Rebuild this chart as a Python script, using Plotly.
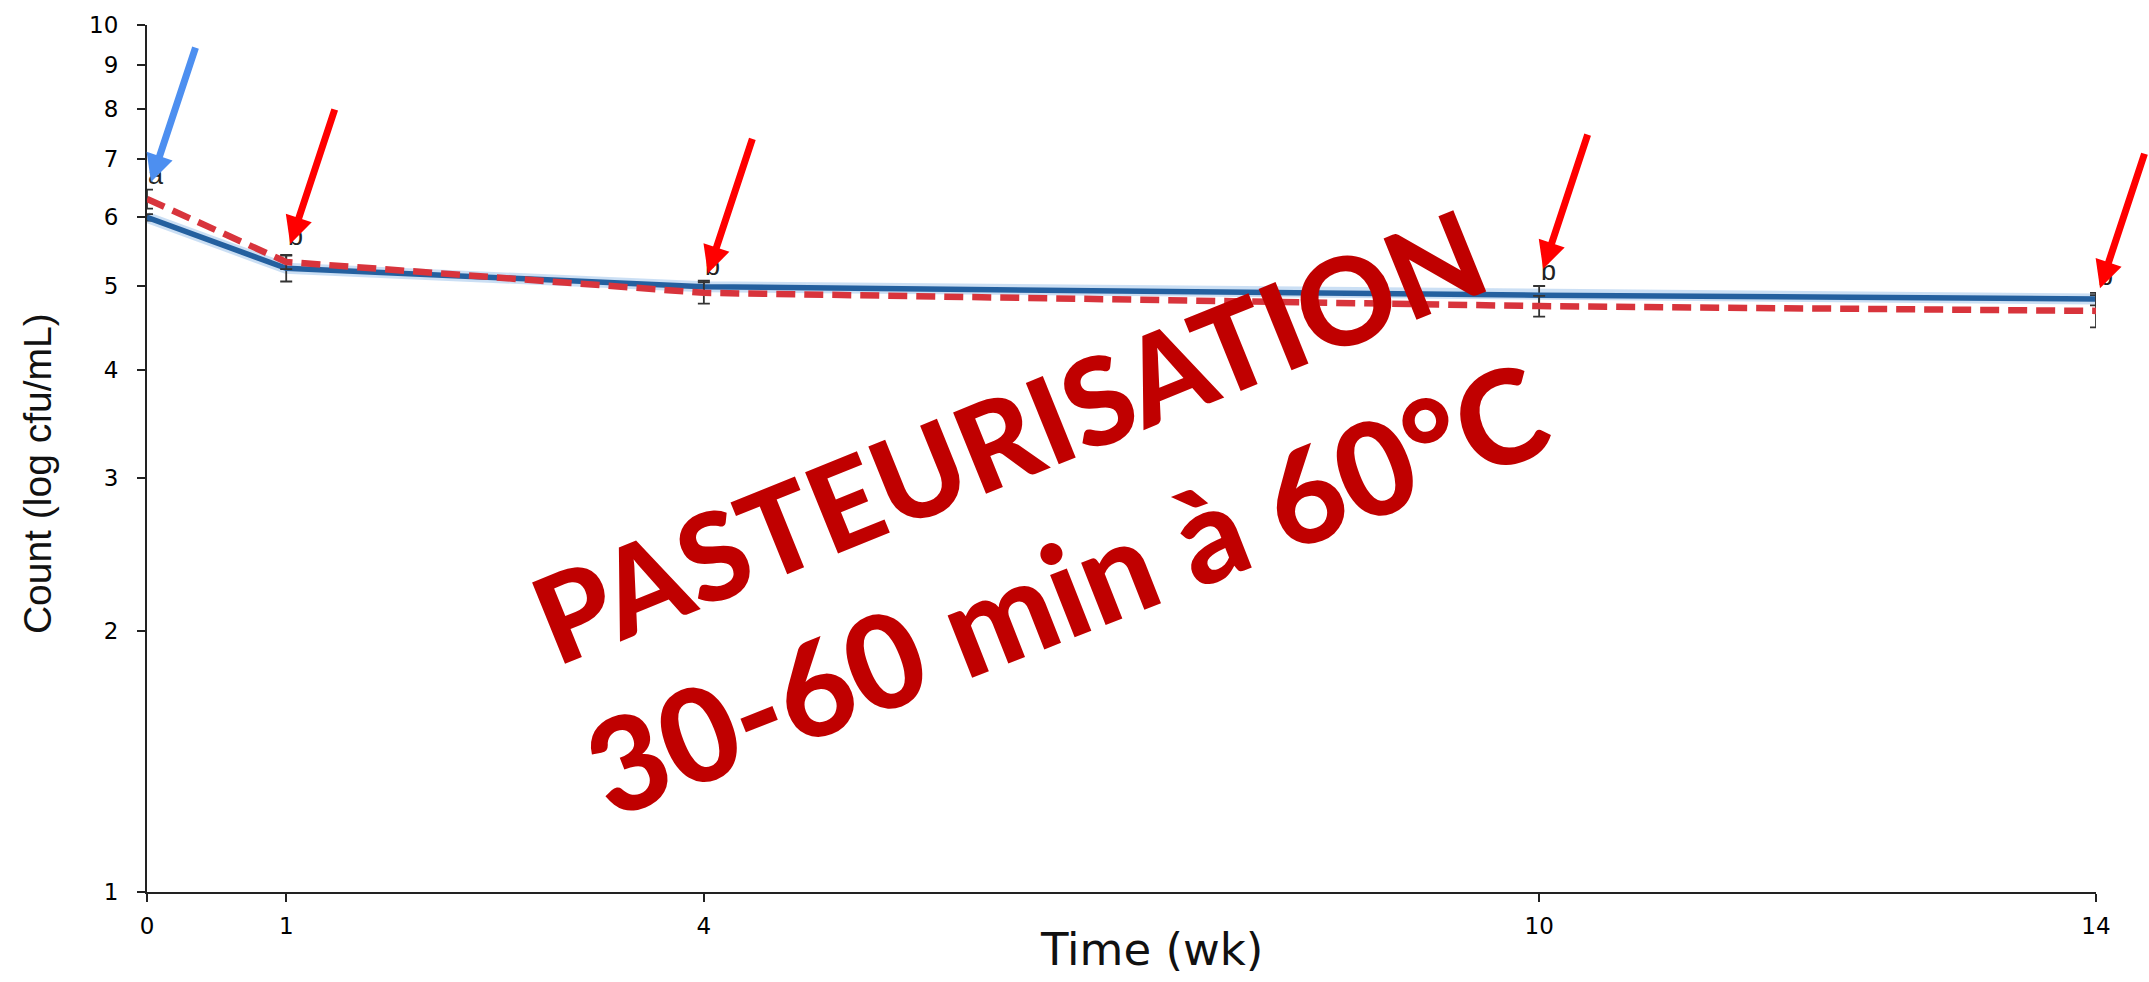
import math
import plotly.graph_objects as go

# ---- data ----
weeks = [0, 1, 4, 10, 14]
blue_counts = [6.00, 5.24, 4.99, 4.88, 4.83]
blue_err = [0.05, 0.18, 0.08, 0.12, 0.08]
red_counts = [6.30, 5.33, 4.91, 4.74, 4.68]
red_err = [0.16, 0.10, 0.14, 0.13, 0.20]
letters = ["a", "b", "b", "b", "b"]
letter_y = [6.72, 5.71, 5.27, 5.20, 5.13]
arrow_y = [6.59, 5.59, 5.17, 5.23, 4.97]
arrow_colors = ["#4d8ff0", "#ff0000", "#ff0000", "#ff0000", "#ff0000"]
y_ticks = [1, 2, 3, 4, 5, 6, 7, 8, 9, 10]
overlay_lines = ["PASTEURISATION", "30-60 min à 60°C"]
x_title = "Time (wk)"
y_title = "Count (log cfu/mL)"

fig = go.Figure()

fig.add_trace(go.Scatter(x=weeks, y=blue_counts, mode="lines",
                         line=dict(color="rgba(140,185,230,0.45)", width=11),
                         hoverinfo="skip", showlegend=False))
fig.add_trace(go.Scatter(x=weeks, y=blue_counts, mode="lines",
                         line=dict(color="#24609f", width=5.5),
                         error_y=dict(type="data", array=blue_err, color="#333333",
                                      thickness=1.8, width=6),
                         showlegend=False))
fig.add_trace(go.Scatter(x=weeks, y=red_counts, mode="lines",
                         line=dict(color="#d8343c", width=6.5, dash="19px,9px"),
                         error_y=dict(type="data", array=red_err, color="#333333",
                                      thickness=1.8, width=6),
                         showlegend=False))

annotations = []
for w, t, ly in zip(weeks, letters, letter_y):
    annotations.append(dict(x=w, y=math.log10(ly), xref="x", yref="y", text=t,
                            showarrow=False, xshift=9,
                            font=dict(family="Liberation Sans", size=27, color="#222222")))
for w, ay_val, col in zip(weeks, arrow_y, arrow_colors):
    annotations.append(dict(x=w, y=math.log10(ay_val), xref="x", yref="y", text="",
                            showarrow=True, arrowhead=2, arrowsize=0.78, arrowwidth=7,
                            arrowcolor=col, ax=45, ay=-136, standoff=0, xshift=4))

for txt, px, py, ang, sz in zip(overlay_lines, [0.442, 0.4715], [0.528, 0.352],
                                [-22, -21.5], [121, 130]):
    annotations.append(dict(x=px, y=py, xref="paper", yref="paper",
                            text=txt, showarrow=False, textangle=ang,
                            xanchor="center", yanchor="middle",
                            font=dict(family="Lato", size=sz,
                                      color="#c00000", weight=900)))

annotations.append(dict(x=0.5154, y=-0.0662, xref="paper", yref="paper", text=x_title,
                        showarrow=False, xanchor="center", yanchor="middle",
                        font=dict(family="DejaVu Sans", size=45, color="#111111")))
annotations.append(dict(x=-0.0565, y=0.483, xref="paper", yref="paper", text=y_title,
                        showarrow=False, xanchor="center", yanchor="middle", textangle=-90,
                        font=dict(family="Liberation Sans", size=39, color="#111111")))

fig.update_layout(
    width=2149, height=982,
    margin=dict(l=147, r=53, t=16, b=90),
    paper_bgcolor="white", plot_bgcolor="white",
    annotations=annotations,
    xaxis=dict(range=[0, 14], tickvals=weeks, ticktext=[str(w) for w in weeks],
               showgrid=False, zeroline=False, showline=True, linecolor="#222222",
               linewidth=2, ticks="outside", ticklen=8, tickwidth=2, tickcolor="#222222",
               ticklabelstandoff=4,
               tickfont=dict(family="DejaVu Sans", size=23, color="#000000")),
    yaxis=dict(type="log", range=[0, 1], tickvals=y_ticks,
               ticktext=[str(v) for v in y_ticks],
               showgrid=False, zeroline=False, showline=True, linecolor="#222222",
               linewidth=2, ticks="outside", ticklen=8, tickwidth=2, tickcolor="#222222",
               ticklabelstandoff=14,
               tickfont=dict(family="DejaVu Sans", size=23, color="#000000")),
)

fig.write_html("out.html")
